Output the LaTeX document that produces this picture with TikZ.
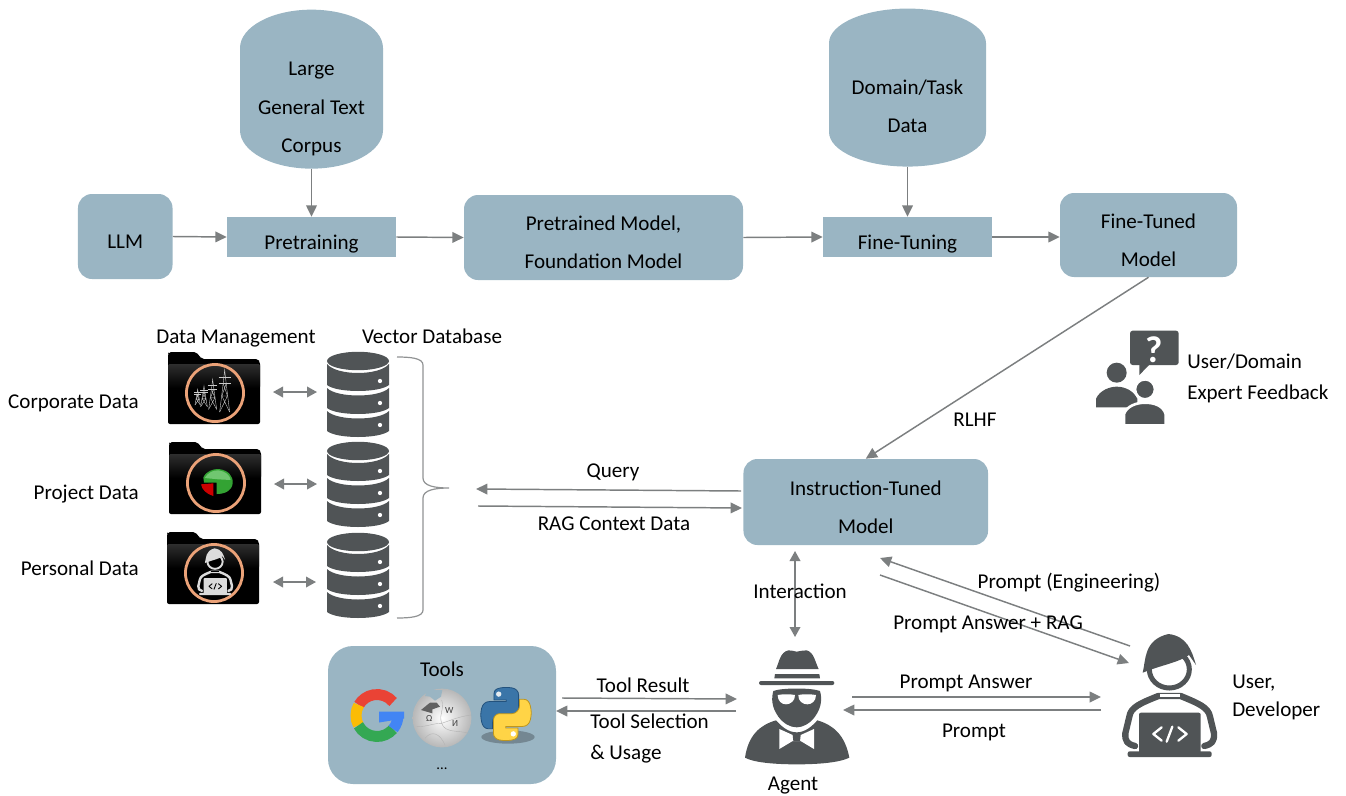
\documentclass[tikz,border=0pt]{standalone}
\usepackage{fontspec}
\setmainfont{Carlito}
\usetikzlibrary{arrows.meta,shapes.geometric,calc}
\definecolor{boxc}{HTML}{9AB5C3}
\definecolor{arrc}{HTML}{7C7F80}
\definecolor{iconc}{HTML}{505456}
\definecolor{ringc}{HTML}{EBA278}
\definecolor{gred}{RGB}{234,67,53}
\definecolor{gyel}{RGB}{251,188,5}
\definecolor{ggrn}{RGB}{52,168,83}
\definecolor{gblu}{RGB}{66,133,244}
\definecolor{pybd}{RGB}{35,82,125}
\definecolor{pyb}{RGB}{58,117,168}
\definecolor{pyyd}{RGB}{190,150,30}
\definecolor{pyy}{RGB}{255,212,70}
\tikzset{
  rbox/.style={fill=boxc,draw=none,rounded corners=10.5pt,inner sep=0pt},
  sbox/.style={fill=boxc,draw=none,inner sep=0pt},
  cyl/.style={cylinder,shape border rotate=90,fill=boxc,draw=none,inner sep=0pt},
  lbl/.style={inner sep=0pt,anchor=base},
  lbll/.style={inner sep=0pt,anchor=base west},
  lblr/.style={inner sep=0pt,anchor=base east},
  arr/.style={draw=arrc,line width=1.1pt,-{Triangle[length=8.5pt,width=8pt]}},
  darr/.style={draw=arrc,line width=1.1pt,{Triangle[length=7.5pt,width=8pt]}-{Triangle[length=7.5pt,width=8pt]}},
}
\newcommand\tb[2]{\raisebox{\dimexpr -#1pt*3/4-3.4pt\relax}[0pt][0pt]{\begin{tabular}{@{}c@{}}#2\end{tabular}}}
% database stack
\newcommand\dbstack[1]{%
\begin{scope}[shift={(327,#1)}]
  \fill[iconc] (31,9) ellipse [x radius=23.25pt,y radius=6.9pt];
  \fill[iconc] (0,12) .. controls (10,24) and (52,24) .. (62,12) -- (62,33) .. controls (52,41) and (10,41) .. (0,33) -- cycle;
  \fill[iconc] (0,36) .. controls (10,46) and (52,46) .. (62,36) -- (62,56) .. controls (52,64) and (10,64) .. (0,56) -- cycle;
  \fill[iconc] (0,59) .. controls (10,69) and (52,69) .. (62,59) -- (62,79) .. controls (52,87) and (10,87) .. (0,79) -- cycle;
  \fill[white] (53,29) circle [radius=1.6pt] (53,51) circle [radius=1.6pt] (53,73) circle [radius=1.6pt];
\end{scope}}
% folder
\newcommand\folder[3]{%
\begin{scope}[shift={(#1,#2)}]
  \fill[black,rounded corners=1.5pt] (0,72) -- (0,2) -- (1,0) -- (28,0) -- (34,7) -- (90,7) -- (92,10) -- (92,72) -- cycle;
  \shade[top color=black!82,bottom color=black,rounded corners=1pt] (0,12) rectangle (92,36);
  \draw[ringc,line width=2.1pt] (47,41) circle [radius=21.4pt];
\end{scope}}
% tower
\newcommand\tower[4]{%
\pgfmathsetmacro\tl{#1-#4}\pgfmathsetmacro\tr{#1+#4}%
\pgfmathsetmacro\tH{#3-#2}%
\pgfmathsetmacro\ya{#2+.18*\tH}\pgfmathsetmacro\yb{#2+.32*\tH}%
\pgfmathsetmacro\yc{#2+.62*\tH}%
\pgfmathsetmacro\ilx{#1-.3*#4}\pgfmathsetmacro\irx{#1+.3*#4}%
\pgfmathsetmacro\mlx{#1-.55*#4}\pgfmathsetmacro\mrx{#1+.55*#4}%
\pgfmathsetmacro\al{#1-1.2*#4}\pgfmathsetmacro\ar{#1+1.2*#4}%
\draw (\tl,#3) -- (\ilx,\yb) -- (#1,#2) -- (\irx,\yb) -- (\tr,#3);
\draw (\al,\ya) -- (\ar,\ya) (\al,\yb) -- (\ar,\yb);
\draw (\ilx,\yb) -- (\mrx,\yc) -- (\tl,#3) (\irx,\yb) -- (\mlx,\yc) -- (\tr,#3) (\mlx,\yc) -- (\mrx,\yc);
}
% user with laptop: origin, unit, fg, bg
\newcommand\usericon[4]{%
\begin{scope}[shift={(#1)},x=#2pt,y=-#2pt]
  \draw[#3,line width=19*#2pt,line cap=round,line join=round] (135,378) .. controls (112,372) and (105,365) .. (106,340) -- (118,290) .. controls (122,262) and (150,250) .. (205,228) -- (272,228) .. controls (325,250) and (355,262) .. (360,290) -- (372,340) .. controls (373,365) and (366,372) .. (343,378);
  \fill[#4] (209,222) rectangle (269,231);
  \draw[#3,fill=#4,line width=15*#2pt] (238,148) ellipse [x radius=60*#2pt,y radius=56*#2pt];
  \fill[#3] (158,158) .. controls (168,120) and (160,60) .. (235,42) .. controls (290,48) and (305,90) .. (318,135) -- (297,105) .. controls (270,125) and (220,135) .. (185,148) -- cycle;
  \fill[#3,rounded corners=6*#2pt] (147,278) rectangle (332,400);
  \fill[#3,rounded corners=6*#2pt] (113,394) rectangle (365,411);
  \draw[#4,line width=7*#2pt,line cap=round,line join=round] (215,322) -- (190,342) -- (215,362) (247,320) -- (230,365) (265,322) -- (290,342) -- (265,362);
\end{scope}}
\begin{document}
\begin{tikzpicture}[x=.75pt,y=-.75pt,font=\fontsize{15.8}{28.9}\selectfont]
\useasboundingbox (0,0) rectangle (1346,796);
% ---- top row
\node[cyl,aspect=.72,minimum width=107.25pt,minimum height=119.25pt] (corpus) at (311.5,108.5) {\tb{-1.5}{Large\\General Text\\Corpus}};
\node[cyl,aspect=.62,minimum width=117.75pt,minimum height=118.5pt] (domain) at (907.5,105) {\tb{1}{Domain/Task\\Data}};
\node[rbox,minimum width=70.9pt,minimum height=63.75pt] (llm) at (125.25,236.5) {\tb{4.5}{LLM}};
\node[sbox,minimum width=126.75pt,minimum height=30pt] (pretr) at (311.5,237) {\tb{5}{Pretraining}};
\node[rbox,minimum width=209.25pt,minimum height=63.75pt] (found) at (603.5,237.5) {\tb{4.5}{Pretrained Model,\\Foundation Model}};
\node[sbox,minimum width=126.75pt,minimum height=30pt] (fine) at (907.5,237) {\tb{5}{Fine-Tuning}};
\node[rbox,minimum width=132.75pt,minimum height=63pt] (ftm) at (1148.5,235) {\tb{5}{Fine-Tuned\\Model}};
\node[rbox,minimum width=183.4pt,minimum height=64.5pt] (inst) at (865.75,502) {\tb{5}{Instruction-Tuned\\Model}};
\node[rbox,rounded corners=18.75pt,minimum width=171pt,minimum height=103.5pt] (tools) at (442,715) {\tb{-46}{Tools}};
\draw[arr] (corpus.south) -- (pretr.north);
\draw[arr] (domain.south) -- (fine.north);
\draw[arr] (llm.east) -- (pretr.west);
\draw[arr] (pretr.east) -- (found.west);
\draw[arr] (found.east) -- (fine.west);
\draw[arr] (fine.east) -- (fine.east -| ftm.west);
\draw[arr] (ftm.south) -- (inst.north);
% ---- free ends
\coordinate (qa) at (741,491); \coordinate (qb) at (476,489);
\coordinate (ra) at (478,506); \coordinate (rb) at (742,508);
\coordinate (ia) at (795,551); \coordinate (ib) at (795,637);
\coordinate (pea) at (1130,646); \coordinate (peb) at (880,558);
\coordinate (paa) at (880,575); \coordinate (pab) at (1129,663);
\coordinate (tra) at (562,698); \coordinate (trb) at (737,699);
\coordinate (tsa) at (736,711); \coordinate (tsb) at (556,711);
\coordinate (ana) at (852,697); \coordinate (anb) at (1101,697);
\coordinate (pra) at (1101,710); \coordinate (prb) at (843,710);
\coordinate (d1a) at (273,392); \coordinate (d1b) at (317,392);
\coordinate (d2a) at (274,484); \coordinate (d2b) at (317,484);
\coordinate (d3a) at (273,582); \coordinate (d3b) at (316,582);
\draw[arr] (qa) -- (qb);
\draw[arr] (ra) -- (rb);
\draw[darr] (ia) -- (ib);
\draw[arr] (pea) -- (peb);
\draw[arr] (paa) -- (pab);
\draw[arr] (tra) -- (trb);
\draw[arr] (tsa) -- (tsb);
\draw[arr] (ana) -- (anb);
\draw[arr] (pra) -- (prb);
\draw[darr] (d1a) -- (d1b);
\draw[darr] (d2a) -- (d2b);
\draw[darr] (d3a) -- (d3b);
% ---- labels
\node[lbl] (ldm) at (236,343) {Data Management};
\node[lbl] (lvd) at (432,343) {Vector Database};
\node[lblr] (lcd) at (139,408.5) {Corporate Data};
\node[lblr] (lpd) at (139,499.5) {Project Data};
\node[lblr] (lpe) at (139,575.5) {Personal Data};
\node[lbl] (lrl) at (975,426) {RLHF};
\node[lbl] (lq) at (613,477.5) {Query};
\node[lbl] (lrag) at (614,530) {RAG Context Data};
\node[lbl] (lint) at (800,598) {Interaction};
\node[lbl] (lpen) at (1069,588) {Prompt (Engineering)};
\node[lbl] (lpar) at (988,629) {Prompt Answer + RAG};
\node[lbl] (ltr) at (643,692.5) {Tool Result};
\node[lbll] (lts) at (590,728.5) {Tool Selection};
\node[lbll] (ltu) at (590,759.5) {\& Usage};
\node[lbl] (lan) at (966,688.5) {Prompt Answer};
\node[lbl] (lpr) at (974,737) {Prompt};
\node[lbl] (lag) at (793,790) {Agent};
\node[lbll] (lu1) at (1232,688) {User,};
\node[lbll] (lu2) at (1232,716) {Developer};
\node[lbll] (lf1) at (1187,368) {User/Domain};
\node[lbll] (lf2) at (1187,399) {Expert Feedback};
\node[lbl,font=\fontsize{11}{12}\selectfont] (ldots) at (442,769) {...};
% ---- databases and brace
\dbstack{352}\dbstack{442}\dbstack{533}
\draw[arrc!85,line width=.9pt] (397,357) .. controls (410,357) and (423,358) .. (423,365) -- (423,478) .. controls (423,486) and (435,488) .. (449,488) .. controls (435,488) and (423,490) .. (423,498) -- (423,610) .. controls (423,617) and (410,618) .. (397,618);
% ---- folders
\folder{168}{352}{}\folder{169}{442}{}\folder{167}{532}{}
% towers (zoom coordinates)
\begin{scope}[shift={(165,350)},x=.25pt,y=-.25pt,draw=black!20,line width=.3pt]
  \tower{98}{118}{165}{8}
  \tower{117}{108}{170}{10}
  \tower{143}{88}{178}{12}
  \tower{179}{60}{186}{15}
\end{scope}
% pie
\begin{scope}[shift={(0,320)},x=.25pt,y=-.25pt]
  \fill[green!55!black!80!white] (610,472) .. controls (620,452) and (640,447) .. (655,447) .. controls (685,450) and (700,468) .. (698,490) .. controls (696,512) and (675,522) .. (650,522) -- (650,488) -- (612,488) -- cycle;
  \fill[green!60!black!70!white!80] (614,474) .. controls (625,456) and (640,451) .. (655,451) .. controls (675,453) and (690,465) .. (692,480) -- (655,478) -- cycle;
  \fill[red!80!black] (603,493) -- (640,490) -- (640,528) .. controls (620,522) and (606,510) .. (603,493) -- cycle;
\end{scope}
\usericon{184.9,543}{.095}{black!14}{black}
% ---- agent
\begin{scope}[shift={(740,645)},x=.25pt,y=-.25pt]
  \fill[iconc] (108,72) .. controls (118,50) and (120,22) .. (145,16) .. controls (155,14) and (160,20) .. (170,20) .. controls (180,20) and (190,14) .. (200,16) .. controls (222,22) and (225,50) .. (236,72) -- cycle;
  \fill[iconc] (105,87) -- (238,87) -- (240,100) -- (103,100) -- cycle;
  \fill[iconc,rounded corners=1.5pt] (57,108) rectangle (283,120);
  \fill[iconc] (100,138) .. controls (125,128) and (215,128) .. (240,138) .. controls (246,160) and (246,185) .. (225,215) .. controls (210,235) and (190,247) .. (170,247) .. controls (150,247) and (130,235) .. (115,215) .. controls (94,185) and (94,160) .. (100,138) -- cycle;
  \fill[white] (113,150) .. controls (130,147) and (150,147) .. (165,150) .. controls (166,168) and (150,178) .. (138,178) .. controls (125,178) and (113,168) .. (113,150) -- cycle;
  \fill[white] (175,150) .. controls (190,147) and (210,147) .. (228,150) .. controls (228,168) and (215,178) .. (202,178) .. controls (188,178) and (174,168) .. (175,150) -- cycle;
  \fill[iconc] (108,226) .. controls (125,245) and (145,262) .. (170,262) .. controls (195,262) and (215,245) .. (232,226) .. controls (280,240) and (315,270) .. (328,338) .. controls (300,352) and (240,358) .. (170,358) .. controls (100,358) and (40,352) .. (15,338) .. controls (25,270) and (60,240) .. (108,226) -- cycle;
  \fill[white] (118,252) -- (158,270) -- (182,270) -- (222,252) -- (222,312) -- (182,288) -- (158,288) -- (118,312) -- cycle;
  \fill[iconc] (158,270) -- (182,270) -- (180,288) -- (160,288) -- cycle;
\end{scope}
% ---- user
\usericon{1090,620}{.25}{iconc}{white}
% ---- feedback icon
\begin{scope}[shift={(1080,320)},x=.25pt,y=-.25pt]
  \fill[iconc,rounded corners=2pt] (150,32) rectangle (296,135);
  \fill[iconc] (178,130) -- (178,165) -- (212,130) -- cycle;
  \node[white,inner sep=0pt,font=\fontsize{28}{28}\selectfont\bfseries] (qm) at (222,88) {?};
  \fill[iconc] (110,158) circle [radius=7.5pt];
  \fill[iconc] (48,262) -- (48,236) .. controls (60,210) and (90,200) .. (110,200) .. controls (135,200) and (160,212) .. (172,236) -- (172,262) -- cycle;
  \draw[white,fill=iconc,line width=2pt] (195,208) circle [radius=7.5pt];
  \draw[white,fill=iconc,line width=2pt] (132,316) -- (132,282) .. controls (140,258) and (170,248) .. (195,248) .. controls (225,248) and (250,258) .. (257,282) -- (257,316) -- cycle;
\end{scope}
% ---- Google G
\begin{scope}[shift={(377,715.5)},x=.75pt,y=.75pt,line width=8.2pt]
  \draw[gred] (40:15.75pt) arc [start angle=40,end angle=150,radius=15.75pt];
  \draw[gyel] (150:15.75pt) arc [start angle=150,end angle=208,radius=15.75pt];
  \draw[ggrn] (208:15.75pt) arc [start angle=208,end angle=320,radius=15.75pt];
  \draw[gblu] (320:15.75pt) arc [start angle=320,end angle=362,radius=15.75pt];
  \fill[gblu] (2,4) -- (27,4) -- (27,-3) -- (2,-7) -- cycle;
\end{scope}
% ---- Wikipedia globe
\shade[inner color=white,outer color=black!28] (442,718) circle [radius=22pt];
\begin{scope}[shift={(345,680)},x=.25pt,y=-.25pt]
  \fill[boxc] (248,30) -- (292,30) -- (288,50) -- (270,62) -- (255,50) -- (240,48) -- cycle;
  \fill[black!62] (228,90) -- (245,76) -- (255,68) -- (275,68) -- (285,80) -- (262,88) -- (262,100) -- (245,95) -- cycle;
  \draw[black!30,line width=.3pt] (290,60) .. controls (300,90) and (280,100) .. (290,130) .. controls (300,160) and (340,150) .. (372,160);
  \draw[black!30,line width=.3pt] (215,140) .. controls (250,140) and (260,130) .. (290,130) .. controls (320,120) and (340,110) .. (378,105);
  \draw[black!30,line width=.3pt] (240,175) .. controls (260,150) and (285,160) .. (300,195);
  \node[inner sep=0pt,text=black!75,font=\fontsize{7}{7}\selectfont] (wkw) at (313,92) {W};
  \node[inner sep=0pt,text=black!75,font=\fontsize{7}{7}\selectfont] (wko) at (253,115) {Ω};
  \node[inner sep=0pt,text=black!75,font=\fontsize{7}{7}\selectfont] (wki) at (330,130) {И};
\end{scope}
% ---- Python
\fill[black!45!boxc,opacity=.55] (508,737) ellipse [x radius=20pt,y radius=5pt];
\begin{scope}[shift={(481,687)},x=.341pt,y=-.368pt]
  \draw[pybd,line width=.6pt,fill=pyb]
    (54.9,.9) .. controls (50.3,.9) and (45.9,1.3) .. (42,2) .. controls (30.6,4) and (28.5,8.2) .. (28.5,16) -- (28.5,26.3) -- (55.5,26.3) -- (55.5,29.7) -- (18.4,29.7) .. controls (10.5,29.7) and (3.6,34.4) .. (1.4,43.4) .. controls (-1.1,53.8) and (-1.2,60.3) .. (1.4,71.1) .. controls (3.3,79.2) and (8,85) .. (15.9,85) -- (25.2,85) -- (25.2,72.6) .. controls (25.2,63.6) and (33,55.7) .. (42.2,55.7) -- (69.2,55.7) .. controls (76.7,55.7) and (82.7,49.5) .. (82.7,42) -- (82.7,16) .. controls (82.7,8.7) and (76.5,3.2) .. (69.2,2) .. controls (64.5,1.2) and (59.6,.9) .. (54.9,.9) -- cycle;
  \fill[white!75!boxc] (39,14.5) circle [radius=2pt];
  \draw[pyyd,line width=.6pt,fill=pyy]
    (55.1,109.1) .. controls (59.7,109.1) and (64.1,108.7) .. (68,108) .. controls (79.4,106) and (81.5,101.8) .. (81.5,94) -- (81.5,83.7) -- (54.5,83.7) -- (54.5,80.3) -- (91.6,80.3) .. controls (99.5,80.3) and (106.4,75.6) .. (108.6,66.6) .. controls (111.1,56.2) and (111.2,49.7) .. (108.6,38.9) .. controls (106.7,30.8) and (102,25) .. (94.1,25) -- (84.8,25) -- (84.8,37.4) .. controls (84.8,46.4) and (77,54.3) .. (67.8,54.3) -- (40.8,54.3) .. controls (33.3,54.3) and (27.3,60.5) .. (27.3,68) -- (27.3,94) .. controls (27.3,101.3) and (33.5,106.8) .. (40.8,108) .. controls (45.5,108.8) and (50.4,109.1) .. (55.1,109.1) -- cycle;
  \fill[white] (71,95.5) circle [radius=2pt];
\end{scope}
\end{tikzpicture}
\end{document}
